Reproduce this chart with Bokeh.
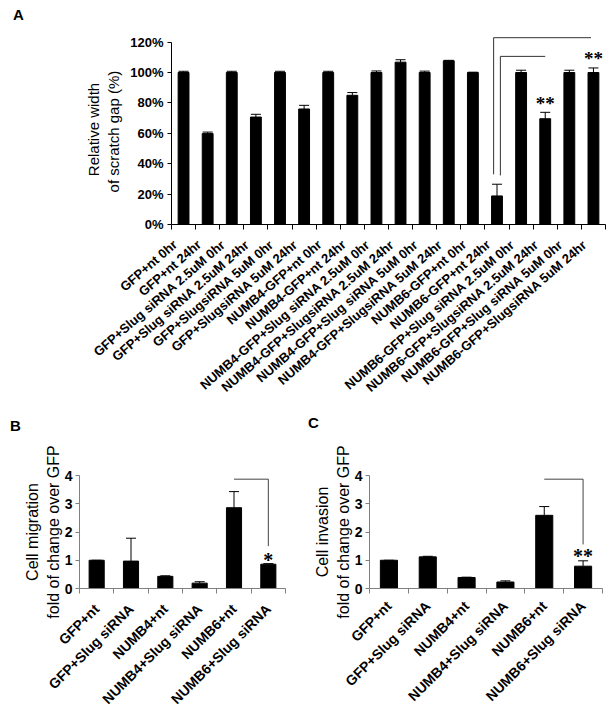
import math
from bokeh.plotting import figure
from bokeh.models import (Range1d, LinearAxis, FixedTicker, PrintfTickFormatter, ColumnDataSource,
                          Whisker, TeeHead, Div)
from bokeh.layouts import column, row
from bokeh.embed import file_html
from bokeh.resources import INLINE

# ---------------- data ----------------
cats_A = ["GFP+nt 0hr", "GFP+nt 24hr", "GFP+Slug siRNA 2.5uM 0hr", "GFP+Slug siRNA 2.5uM 24hr",
          "GFP+SlugsiRNA 5uM 0hr", "GFP+SlugsiRNA 5uM 24hr", "NUMB4-GFP+nt 0hr", "NUMB4-GFP+nt 24hr",
          "NUMB4-GFP+Slug siRNA 2.5uM 0hr", "NUMB4-GFP+SlugsiRNA 2.5uM 24hr", "NUMB4-GFP+Slug siRNA 5uM 0hr",
          "NUMB4-GFP+SlugsiRNA 5uM 24hr", "NUMB6-GFP+nt 0hr", "NUMB6-GFP+nt 24hr",
          "NUMB6-GFP+Slug siRNA 2.5uM 0hr", "NUMB6-GFP+SlugsiRNA 2.5uM 24hr", "NUMB6-GFP+Slug siRNA 5uM 0hr",
          "NUMB6-GFP+SlugsiRNA 5uM 24hr"]
vals_A = [100, 59.8, 100, 70.7, 100, 76, 100, 85, 100, 106.8, 100, 107.7, 100, 18.8, 100, 69.6, 100, 100]
errs_A = [0.8, 1.0, 0.8, 1.8, 0.8, 2.4, 0.8, 1.8, 1.0, 1.6, 0.9, 0.3, 0.2, 7.7, 1.5, 4.2, 1.5, 3.0]
yticks_A = [0, 20, 40, 60, 80, 100, 120]
# significance: (from category, to category, bracket level, bottom of vertical)
brackets_A = [("NUMB6-GFP+nt 24hr", "NUMB6-GFP+SlugsiRNA 5uM 24hr", 122.9, 33.0),
              ("NUMB6-GFP+nt 24hr", "NUMB6-GFP+SlugsiRNA 2.5uM 24hr", 110.6, 32.3)]
stars_A = [("NUMB6-GFP+SlugsiRNA 2.5uM 24hr", 79.4, "**"), ("NUMB6-GFP+SlugsiRNA 5uM 24hr", 109.0, "**")]

cats_BC = ["GFP+nt", "GFP+Slug siRNA", "NUMB4+nt", "NUMB4+Slug siRNA", "NUMB6+nt", "NUMB6+Slug siRNA"]
vals_B = [1.0, 0.97, 0.43, 0.19, 2.86, 0.86]
errs_B = [0.0, 0.81, 0.02, 0.05, 0.57, 0.02]
vals_C = [1.0, 1.12, 0.39, 0.23, 2.59, 0.79]
errs_C = [0.0, 0.02, 0.01, 0.04, 0.31, 0.19]
yticks_BC = [0, 1, 2, 3, 4]
bracket_B = ("NUMB6+nt", "NUMB6+Slug siRNA", 3.87, 1.5)
bracket_C = ("NUMB6+nt", "NUMB6+Slug siRNA", 3.87, 1.56)
star_B = ("NUMB6+Slug siRNA", 1.02, "*")
star_C = ("NUMB6+Slug siRNA", 1.14, "**")

FONT = "Liberation Sans"


def base_fig(w, h, ncat, ymax, ml, mr, mt, mb):
    p = figure(width=w, height=h, x_range=Range1d(0, ncat), y_range=Range1d(0, ymax),
               x_axis_location=None, output_backend="svg", toolbar_location=None,
               min_border_left=ml, min_border_right=mr, min_border_top=mt, min_border_bottom=mb)
    p.xgrid.visible = False
    p.ygrid.visible = False
    p.outline_line_color = None
    p.background_fill_color = "white"
    p.border_fill_color = "white"
    return p


def style_y(p, ticks, bound, label, tick_size, title_size, axis_color, label_standoff, title_standoff):
    ax = p.yaxis[0]
    ax.ticker = FixedTicker(ticks=ticks)
    ax.bounds = (0, bound)
    ax.axis_line_color = axis_color
    ax.major_tick_line_color = axis_color
    ax.major_tick_in = 0
    ax.major_tick_out = 4
    ax.minor_tick_line_color = None
    ax.major_label_text_font = FONT
    ax.major_label_text_font_style = "bold"
    ax.major_label_text_font_size = tick_size
    ax.major_label_text_color = "black"
    ax.major_label_standoff = label_standoff
    ax.axis_label = label
    ax.axis_label_text_font = FONT
    ax.axis_label_text_font_style = "normal"
    ax.axis_label_text_font_size = title_size
    ax.axis_label_text_color = "black"
    ax.axis_label_standoff = title_standoff


def add_x(p, cats, axis_color, font_size, angle_deg, standoff, shift):
    n = len(cats)
    centers = [round(i + 0.5 + shift, 3) for i in range(n)]
    ax = LinearAxis(ticker=FixedTicker(ticks=centers, minor_ticks=list(range(n + 1))),
                    major_label_overrides={c: cats[i] for i, c in enumerate(centers)},
                    axis_line_color=axis_color, major_tick_line_color=None, major_tick_out=0, major_tick_in=0,
                    minor_tick_line_color=axis_color, minor_tick_out=5, minor_tick_in=0,
                    major_label_orientation=math.radians(angle_deg),
                    major_label_text_font=FONT, major_label_text_font_style="bold",
                    major_label_text_font_size=font_size, major_label_text_color="black",
                    major_label_standoff=standoff)
    p.add_layout(ax, "below")


def add_bars(p, cats, vals, errs, width, head):
    xs = [i + 0.5 for i in range(len(cats))]
    src = ColumnDataSource(dict(x=xs, top=vals, upper=[v + e for v, e in zip(vals, errs)]))
    p.add_layout(Whisker(base="x", lower="top", upper="upper", source=src, line_color="black", line_width=1,
                         upper_head=TeeHead(size=head, line_color="black", line_width=1), lower_head=None))
    p.vbar(x="x", top="top", width=width, source=src, fill_color="black", line_color="black")


def letter_div(text, w, pad_left, pad_top):
    html = ('<div style="font-family:\'Liberation Sans\',Arial,sans-serif;font-weight:bold;font-size:15px;'
            'line-height:15px;color:black;padding-left:%dpx;padding-top:%dpx;margin:0">%s</div>'
            % (pad_left, pad_top, text))
    return Div(text=html, width=w, height=22, margin=(0, 0, 0, 0))


# ---------------- panel A ----------------
pA = base_fig(606, 390, len(cats_A), 125, 171, 1, 12, 188)
add_bars(pA, cats_A, vals_A, errs_A, 0.45, 10)
style_y(pA, yticks_A, 120, "Relative width\nof scratch  gap (%)", "13px", "15px", "black", 4, 5)
pA.yaxis[0].formatter = PrintfTickFormatter(format="%d%%")
add_x(pA, cats_A, "black", "13px", 41, 13, -0.35)
bx, by = [], []
for k, (a, b, level, bottom) in enumerate(brackets_A):
    xa = cats_A.index(a) + 0.5 + (-0.14 if k == 0 else 0.14)
    xb = cats_A.index(b) + 0.5 - (0.1 if k == 0 else 0.0)
    bx.append([xa, xa, xb])
    by.append([bottom, level, level])
pA.multi_line(bx, by, line_color="#333333", line_width=1)
pA.text([cats_A.index(c) + 0.5 for c, _, _ in stars_A], [y for _, y, _ in stars_A],
        text=[t for _, _, t in stars_A], text_align="center", text_baseline="middle",
        text_font="Liberation Sans", text_font_style="bold", text_font_size="19px", text_color="black")


def small_panel(w, ml, mr, mt, mb, vals, errs, ylabel, bracket, star, xstand):
    p = base_fig(w, 281, len(cats_BC), 4, ml, mr, mt, mb)
    add_bars(p, cats_BC, vals, errs, 0.44, 10)
    style_y(p, yticks_BC, 4, ylabel, "14px", "16px", "#808080", 3, 0)
    add_x(p, cats_BC, "#808080", "14px", 45, xstand, 0.0)
    a, b, level, bottom = bracket
    xa = cats_BC.index(a) + 0.5
    xb = cats_BC.index(b) + 0.5
    p.line([xa, xb, xb], [level, level, bottom], line_color="#444444", line_width=1)
    c, y, t = star
    p.text([cats_BC.index(c) + 0.5], [y], text=[t], text_align="center", text_baseline="middle",
           text_font="Liberation Sans", text_font_style="bold", text_font_size="20px", text_color="black")
    return p


pB = small_panel(290, 79, 5, 41, 120, vals_B, errs_B, "Cell migration\nfold of change over GFP",
                 bracket_B, star_B, 13)
pC = small_panel(316, 79, 4, 38, 117, vals_C, errs_C, "Cell invasion\nfold of change over GFP",
                 bracket_C, star_C, 10)

layout = column(
    letter_div("A", 606, 13, 7),
    pA,
    row(letter_div("B", 290, 10, 6), letter_div("C", 316, 18, 3), spacing=0),
    row(pB, pC, spacing=0),
    spacing=0)
open("out.html", "w").write(file_html(layout, INLINE))
